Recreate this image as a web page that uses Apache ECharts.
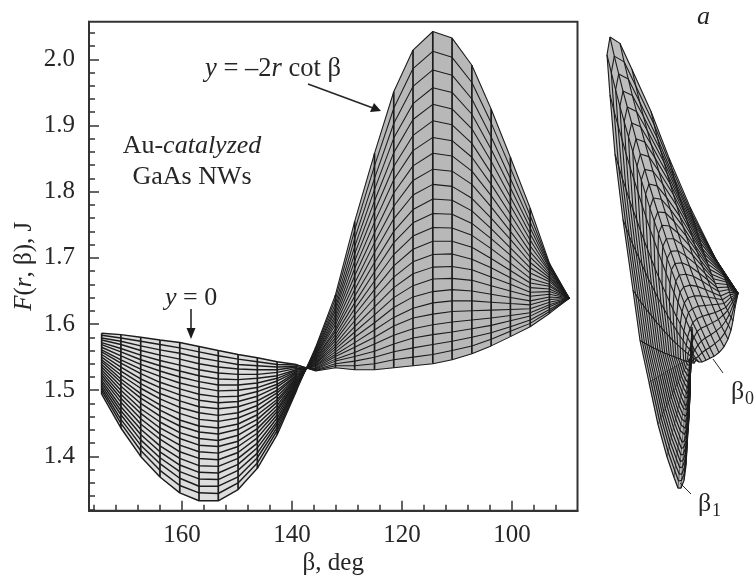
<!DOCTYPE html>
<html><head><meta charset="utf-8">
<style>html,body{margin:0;padding:0;background:#fff}#c{width:754px;height:579px}</style>
<script src="https://cdn.jsdelivr.net/npm/echarts@6/dist/echarts.min.js"></script>
</head><body><div id="c"></div>
<script>
const betaGrid = [174.6,171.1,167.5,164,160.4,156.9,153.4,149.8,146.3,142.7,139.2,135.7,132.1,128.6,125,121.5,118,114.4,110.9,107.3,103.8,100.3,96.7,93.2,89.6];
const xMajor = [160,140,120,100];
const xMinor = [176,172,168,164,156,152,148,144,136,132,128,124,116,112,108,104,96,92];
const yMajor = [1.4,1.5,1.6,1.7,1.8,1.9,2.0];
const yMinor = [1.32,1.34,1.36,1.38,1.42,1.44,1.46,1.48,1.52,1.54,1.56,1.58,1.62,1.64,1.66,1.68,1.72,1.74,1.76,1.78,1.82,1.84,1.86,1.88,1.92,1.94,1.96,1.98,2.02,2.04];
// F(r, beta): one list per beta column, one value per r line
const F_by_beta = [
[1.586,1.583,1.579,1.576,1.572,1.569,1.565,1.561,1.558,1.554,1.550,1.546,1.543,1.539,1.535,1.531,1.527,1.523,1.519,1.515,1.511,1.507,1.503,1.499,1.494],
[1.584,1.579,1.574,1.569,1.563,1.558,1.552,1.546,1.541,1.535,1.529,1.523,1.517,1.512,1.506,1.500,1.494,1.488,1.482,1.475,1.469,1.463,1.456,1.450,1.443],
[1.580,1.574,1.567,1.560,1.553,1.546,1.539,1.532,1.525,1.517,1.510,1.503,1.495,1.488,1.480,1.472,1.465,1.457,1.449,1.441,1.433,1.425,1.417,1.409,1.400],
[1.576,1.569,1.561,1.553,1.545,1.537,1.529,1.521,1.512,1.504,1.495,1.487,1.478,1.470,1.461,1.452,1.443,1.434,1.426,1.416,1.407,1.398,1.389,1.379,1.369],
[1.572,1.564,1.556,1.547,1.538,1.529,1.520,1.511,1.502,1.493,1.484,1.474,1.465,1.455,1.446,1.436,1.427,1.417,1.407,1.397,1.387,1.377,1.367,1.356,1.345],
[1.566,1.558,1.549,1.540,1.531,1.522,1.513,1.504,1.494,1.485,1.475,1.466,1.456,1.446,1.437,1.427,1.417,1.407,1.397,1.386,1.376,1.366,1.355,1.345,1.333],
[1.560,1.552,1.544,1.535,1.526,1.517,1.508,1.499,1.490,1.481,1.472,1.462,1.453,1.443,1.434,1.424,1.415,1.405,1.395,1.385,1.375,1.365,1.355,1.344,1.333],
[1.554,1.547,1.539,1.532,1.524,1.516,1.508,1.500,1.491,1.483,1.475,1.466,1.458,1.449,1.441,1.432,1.423,1.415,1.406,1.397,1.388,1.379,1.369,1.360,1.350],
[1.549,1.543,1.537,1.531,1.524,1.518,1.511,1.504,1.498,1.491,1.484,1.477,1.470,1.463,1.456,1.449,1.442,1.435,1.428,1.420,1.413,1.405,1.398,1.390,1.382],
[1.543,1.539,1.535,1.531,1.527,1.522,1.518,1.514,1.509,1.505,1.500,1.496,1.491,1.486,1.482,1.477,1.472,1.468,1.463,1.458,1.453,1.449,1.444,1.439,1.433],
[1.539,1.538,1.536,1.535,1.533,1.531,1.530,1.528,1.527,1.525,1.523,1.522,1.520,1.518,1.517,1.515,1.513,1.512,1.510,1.508,1.506,1.505,1.503,1.501,1.499],
[1.529,1.530,1.531,1.532,1.533,1.534,1.536,1.537,1.538,1.540,1.541,1.542,1.544,1.545,1.547,1.548,1.550,1.552,1.553,1.555,1.557,1.559,1.561,1.563,1.565],
[1.534,1.537,1.540,1.544,1.547,1.551,1.554,1.558,1.562,1.566,1.570,1.575,1.579,1.584,1.589,1.593,1.599,1.604,1.609,1.614,1.620,1.625,1.631,1.638,1.644],
[1.531,1.537,1.544,1.551,1.557,1.565,1.572,1.580,1.588,1.596,1.605,1.614,1.623,1.632,1.642,1.652,1.662,1.673,1.684,1.695,1.706,1.717,1.729,1.742,1.755],
[1.531,1.540,1.550,1.559,1.570,1.580,1.591,1.602,1.614,1.626,1.639,1.652,1.665,1.679,1.693,1.708,1.723,1.738,1.754,1.770,1.786,1.803,1.820,1.839,1.858],
[1.534,1.546,1.558,1.570,1.583,1.597,1.610,1.625,1.640,1.655,1.671,1.688,1.705,1.723,1.740,1.759,1.778,1.798,1.818,1.838,1.859,1.881,1.903,1.926,1.951],
[1.537,1.550,1.564,1.579,1.593,1.609,1.624,1.641,1.658,1.676,1.694,1.713,1.733,1.753,1.773,1.795,1.817,1.839,1.862,1.885,1.909,1.933,1.959,1.986,2.014],
[1.540,1.554,1.569,1.584,1.599,1.615,1.632,1.649,1.668,1.686,1.705,1.725,1.746,1.767,1.789,1.811,1.834,1.858,1.882,1.907,1.932,1.957,1.984,2.012,2.042],
[1.546,1.560,1.574,1.588,1.603,1.619,1.635,1.652,1.669,1.687,1.706,1.725,1.745,1.766,1.787,1.808,1.831,1.854,1.877,1.901,1.925,1.950,1.976,2.003,2.032],
[1.555,1.567,1.580,1.593,1.606,1.620,1.635,1.650,1.666,1.682,1.698,1.716,1.734,1.752,1.771,1.790,1.811,1.831,1.852,1.873,1.895,1.917,1.940,1.965,1.991],
[1.567,1.577,1.587,1.598,1.609,1.621,1.633,1.645,1.658,1.671,1.685,1.699,1.714,1.729,1.744,1.760,1.777,1.794,1.811,1.828,1.846,1.864,1.883,1.904,1.925],
[1.581,1.589,1.596,1.605,1.613,1.622,1.631,1.640,1.650,1.660,1.670,1.681,1.692,1.704,1.715,1.728,1.740,1.753,1.766,1.779,1.792,1.806,1.820,1.836,1.852],
[1.596,1.601,1.606,1.612,1.617,1.623,1.629,1.635,1.642,1.648,1.655,1.662,1.669,1.677,1.685,1.693,1.701,1.709,1.718,1.727,1.736,1.745,1.754,1.764,1.775],
[1.616,1.619,1.622,1.626,1.629,1.633,1.637,1.641,1.645,1.649,1.653,1.657,1.660,1.664,1.667,1.670,1.673,1.676,1.679,1.681,1.684,1.686,1.688,1.690,1.692],
[1.639,1.639,1.639,1.639,1.639,1.639,1.639,1.639,1.639,1.639,1.639,1.639,1.639,1.639,1.639,1.639,1.639,1.639,1.639,1.639,1.639,1.639,1.639,1.639,1.639]
];
// horizontal position of the same surface in the side view (panel without axes)
const sideView_by_beta = [
[102,101.9,101.8,101.8,101.7,101.6,101.5,101.4,101.3,101.3,101.2,101.1,101,100.9,100.8,100.8,100.7,100.6,100.5,100.4,100.3,100.3,100.2,100.1,100],
[102,101.9,101.8,101.6,101.5,101.4,101.3,101.1,101,100.9,100.8,100.6,100.5,100.4,100.3,100.1,100,99.9,99.8,99.6,99.5,99.4,99.3,99.1,99],
[102,101.8,101.6,101.4,101.2,101,100.8,100.5,100.3,100.1,99.9,99.7,99.5,99.3,99.1,98.9,98.7,98.5,98.3,98,97.8,97.6,97.4,97.2,97],
[102,101.8,101.5,101.3,101,100.8,100.5,100.3,100,99.8,99.5,99.3,99,98.8,98.5,98.3,98,97.8,97.5,97.3,97,96.8,96.5,96.3,96],
[102,101.7,101.3,101,100.7,100.3,100,99.7,99.3,99,98.7,98.3,98,97.7,97.3,97,96.7,96.3,96,95.7,95.3,95,94.7,94.3,94],
[102,101.5,101.1,100.6,100.2,99.7,99.3,98.8,98.3,97.9,97.4,97,96.5,96,95.6,95.1,94.7,94.2,93.8,93.3,92.8,92.4,91.9,91.5,91],
[102,101.4,100.8,100.3,99.7,99.1,98.5,97.9,97.3,96.8,96.2,95.6,95,94.4,93.8,93.3,92.7,92.1,91.5,90.9,90.3,89.8,89.2,88.6,88],
[103,102.2,101.4,100.6,99.8,99,98.3,97.5,96.7,95.9,95.1,94.3,93.5,92.7,91.9,91.1,90.3,89.5,88.7,88,87.2,86.4,85.6,84.8,84],
[103,101.9,100.8,99.8,98.7,97.6,96.5,95.4,94.3,93.3,92.2,91.1,90,88.9,87.8,86.8,85.7,84.6,83.5,82.4,81.3,80.3,79.2,78.1,77],
[103,101.5,100.1,98.6,97.2,95.7,94.3,92.8,91.3,89.9,88.4,87,85.5,84,82.6,81.1,79.7,78.2,76.8,75.3,73.8,72.4,70.9,69.5,68],
[103,101.2,99.3,97.5,95.7,93.8,92,90.2,88.3,86.5,84.7,82.8,81,79.2,77.3,75.5,73.7,71.8,70,68.2,66.3,64.5,62.7,60.8,59],
[104,101.8,99.5,97.3,95,92.8,90.5,88.3,86,83.8,81.5,79.3,77,74.8,72.5,70.3,68,65.8,63.5,61.3,59,56.8,54.5,52.3,50],
[106,103.4,100.8,98.1,95.5,92.9,90.3,87.6,85,82.4,79.8,77.1,74.5,71.9,69.3,66.6,64,61.4,58.8,56.1,53.5,50.9,48.3,45.6,43],
[109,105.8,102.7,99.5,96.3,93.2,90,86.8,83.7,80.5,77.3,74.2,71,67.8,64.7,61.5,58.3,55.2,52,48.8,45.7,42.5,39.3,36.2,33],
[112,108.4,104.8,101.1,97.5,93.9,90.3,86.6,83,79.4,75.8,72.1,68.5,64.9,61.3,57.6,54,50.4,46.8,43.1,39.5,35.9,32.3,28.6,25],
[116,112,108,104,100,96,92,88,84,80,76,72,68,64,60,56,52,48,44,40,36,32,28,24,20],
[120,115.7,111.4,107.1,102.8,98.5,94.3,90,85.7,81.4,77.1,72.8,68.5,64.2,59.9,55.6,51.3,47,42.8,38.5,34.2,29.9,25.6,21.3,17],
[124,119.7,115.3,111,106.7,102.3,98,93.7,89.3,85,80.7,76.3,72,67.7,63.3,59,54.7,50.3,46,41.7,37.3,33,28.7,24.3,20],
[129,124.9,120.8,116.6,112.5,108.4,104.3,100.1,96,91.9,87.8,83.6,79.5,75.4,71.3,67.1,63,58.9,54.8,50.6,46.5,42.4,38.3,34.1,30],
[134,130.2,126.3,122.5,118.7,114.8,111,107.2,103.3,99.5,95.7,91.8,88,84.2,80.3,76.5,72.7,68.8,65,61.2,57.3,53.5,49.7,45.8,42],
[138,134.8,131.6,128.4,125.2,122,118.8,115.5,112.3,109.1,105.9,102.7,99.5,96.3,93.1,89.9,86.7,83.5,80.3,77,73.8,70.6,67.4,64.2,61],
[141,138.4,135.8,133.3,130.7,128.1,125.5,122.9,120.3,117.8,115.2,112.6,110,107.4,104.8,102.3,99.7,97.1,94.5,91.9,89.3,86.8,84.2,81.6,79],
[143,141.2,139.4,137.6,135.8,134,132.3,130.5,128.7,126.9,125.1,123.3,121.5,119.7,117.9,116.1,114.3,112.5,110.8,109,107.2,105.4,103.6,101.8,100],
[145,144.2,143.4,142.6,141.8,141,140.3,139.5,138.7,137.9,137.1,136.3,135.5,134.7,133.9,133.1,132.3,131.5,130.7,130,129.2,128.4,127.6,126.8,126],
[148,148,148,148,148,148,148,148,148,148,148,148,148,148,148,148,148,148,148,148,148,148,148,148,148]
];
const FONT = '"Liberation Serif","Times New Roman",serif';
const INK = '#262626';
const nCols = betaGrid.length, nRows = F_by_beta[0].length;
const FOLD = 11; // first beta column of the y = -2r cot beta lobe

const series = [];
const fillMain = [];
for (let i = 0; i < nCols - 1; i++) {
  fillMain.push({value:[betaGrid[i],F_by_beta[i][0],betaGrid[i+1],F_by_beta[i+1][0],betaGrid[i+1],F_by_beta[i+1][nRows-1],betaGrid[i],F_by_beta[i][nRows-1]],
    itemStyle:{color:i < FOLD ? '#dddddd' : '#b8b8b8'}});
}
function poly(params, api){
  const pts=[]; for(let k=0;k<4;k++) pts.push(api.coord([api.value(2*k),api.value(2*k+1)]));
  return {type:'polygon',shape:{points:pts},style:{fill:api.visual('color'),stroke:api.visual('color'),lineWidth:.5},silent:true};
}
series.push({type:'custom',xAxisIndex:0,yAxisIndex:0,renderItem:poly,data:fillMain,z:1,silent:true,clip:false,encode:{x:0,y:1}});
const fillSide = [];
for (let i = 0; i < nCols - 1; i++) for (let j = 0; j < nRows - 1; j++) {
  fillSide.push({value:[sideView_by_beta[i][j],F_by_beta[i][j],sideView_by_beta[i+1][j],F_by_beta[i+1][j],sideView_by_beta[i+1][j+1],F_by_beta[i+1][j+1],sideView_by_beta[i][j+1],F_by_beta[i][j+1]],
    itemStyle:{color:'#bdbdbd'}});
}
series.push({type:'custom',xAxisIndex:2,yAxisIndex:2,renderItem:poly,data:fillSide,z:1,silent:true,clip:false,encode:{x:0,y:1}});

function addLine(xi, data, width, z){
  series.push({type:'line',xAxisIndex:xi,yAxisIndex:xi,data,showSymbol:false,symbol:'none',silent:true,z,clip:false,
    lineStyle:{color:'#1c1c1c',width},animation:false});
}
for (let j = 0; j < nRows; j++) {
  const main = betaGrid.map((b,i)=>[b,F_by_beta[i][j]]);
  const side = betaGrid.map((b,i)=>[sideView_by_beta[i][j],F_by_beta[i][j]]);
  addLine(0, main.slice(0,FOLD), 1.45, 2);
  addLine(0, main.slice(FOLD-1), 1.05, 2);
  addLine(2, side.slice(0,FOLD), 1.25, 2);
  addLine(2, side.slice(FOLD-1), 1.1, 2);
}
for (let i = 0; i < nCols; i++) {
  addLine(0, F_by_beta[i].map(f=>[betaGrid[i],f]), 1.7, 3);
  addLine(2, F_by_beta[i].map((f,j)=>[sideView_by_beta[i][j],f]), i < FOLD ? .6 : 1.1, 3);
}

const lab = {color:INK,fontFamily:FONT,fontSize:25};
const G = [];
function txt(x,y,text,size,opt){
  G.push({type:'text',x,y,silent:true,z:50,style:Object.assign({text,fill:INK,font:`${size}px ${FONT}`,align:'left',verticalAlign:'middle',
    rich:{i:{fontStyle:'italic',fontFamily:FONT,fontSize:size,fill:INK},n:{fontFamily:FONT,fontSize:size,fill:INK}}},opt||{})});
}
function seg(x1,y1,x2,y2,w){G.push({type:'line',silent:true,z:50,shape:{x1,y1,x2,y2},style:{stroke:INK,lineWidth:w}});}
function head(pts){G.push({type:'polygon',silent:true,z:50,shape:{points:pts},style:{fill:'#1a1a1a'}});}
txt(205,69,'{i|y}{n| = –2}{i|r}{n| cot β}',26.5);
seg(308,84,373,108,1.6); head([[381,111],[370,112],[374,103]]);
txt(192,146,'{n|Au-}{i|catalyzed}',26,{align:'center'});
txt(192,177,'{n|GaAs NWs}',26,{align:'center'});
txt(165,298,'{i|y}{n| = 0}',26);
seg(191,309,191,329,1.6); head([[191,339],[186.5,328],[195.5,328]]);
txt(697,17,'{i|a}',26);
seg(713,359,723,373,1); seg(680,483,691,494,1);
txt(731,392,'β',26); txt(745,399,'0',18);
txt(698,504,'β',26); txt(712,511,'1',18);

const gridBox = {left:89,top:21.7,width:488.5,height:489,outerBoundsMode:'none'};
const option = {
  animation:false,
  backgroundColor:'#fff',
  graphic:{elements:G},
  grid:[
    Object.assign({show:true,borderColor:'#333',borderWidth:2,backgroundColor:'transparent'},gridBox),
    Object.assign({show:false},gridBox),
    {left:590,width:164,top:25.6,height:483.4,show:false,outerBoundsMode:'none'}
  ],
  xAxis:[
    {gridIndex:0,type:'value',min:88.1,max:176.9,inverse:true,position:'bottom',
     name:'β, deg',nameLocation:'middle',nameGap:40,nameMoveOverlap:false,nameTextStyle:lab,
     axisLine:{lineStyle:{color:'#333',width:2}},
     axisTick:{inside:true,length:10,customValues:xMajor,lineStyle:{color:'#333',width:1.5}},
     axisLabel:{customValues:xMajor,formatter:v=>String(v),margin:12,color:INK,fontFamily:FONT,fontSize:25},
     splitLine:{show:false}},
    {gridIndex:1,type:'value',min:88.1,max:176.9,inverse:true,position:'bottom',
     axisLine:{show:false},axisLabel:{show:false},splitLine:{show:false},
     axisTick:{inside:true,length:6,customValues:xMinor,lineStyle:{color:'#333',width:1.5}}},
    {gridIndex:2,type:'value',min:0,max:164,show:false}
  ],
  yAxis:[
    {gridIndex:0,type:'value',min:1.318,max:2.0568,
     name:'{i|F}({i|r}, β), J',nameLocation:'middle',nameGap:52,nameMoveOverlap:false,
     nameTextStyle:Object.assign({},lab,{rich:{i:{fontStyle:'italic',fontFamily:FONT,fontSize:25,color:INK}}}),
     axisLine:{show:true,lineStyle:{color:'#333',width:2}},
     axisTick:{show:true,inside:true,length:10,customValues:yMajor,lineStyle:{color:'#333',width:1.5}},
     axisLabel:{customValues:yMajor,formatter:v=>v.toFixed(1),margin:14,color:INK,fontFamily:FONT,fontSize:25},
     splitLine:{show:false}},
    {gridIndex:1,type:'value',min:1.318,max:2.0568,
     axisLine:{show:false},axisLabel:{show:false},splitLine:{show:false},
     axisTick:{show:true,inside:true,length:6,customValues:yMinor,lineStyle:{color:'#333',width:1.5}}},
    {gridIndex:2,type:'value',min:1.3,max:2.06,show:false}
  ],
  series
};
echarts.init(document.getElementById('c'),null,{renderer:'canvas'}).setOption(option);
</script></body></html>
